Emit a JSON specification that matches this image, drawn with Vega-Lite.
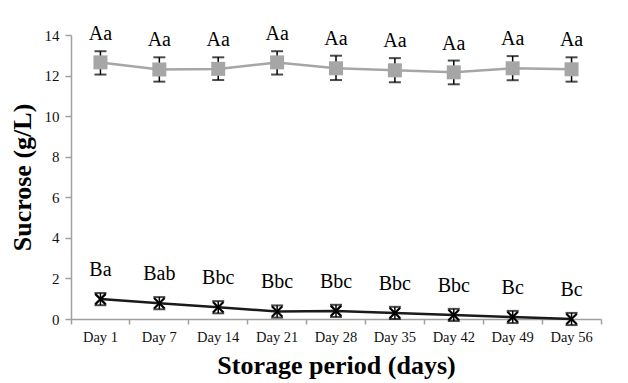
{
  "$schema": "https://vega.github.io/schema/vega-lite/v6.json",
  "autosize": "none",
  "width": 530,
  "height": 284,
  "padding": {"left": 71, "top": 35, "right": 27, "bottom": 64},
  "background": "white",
  "config": {
    "view": {"stroke": null},
    "font": "Liberation Serif",
    "text": {"font": "Liberation Serif"},
    "axis": {"labelFont": "Liberation Serif", "titleFont": "Liberation Serif", "domainColor": "#a0a0a0", "tickColor": "#a0a0a0", "labelColor": "#111111", "titleColor": "#000000", "grid": false, "domainWidth": 1.5, "tickWidth": 1.5}
  },
  "data": {
    "values": [
      {"day": "Day 1", "series": "grey", "value": 12.65, "lo": 12.05, "hi": 13.2, "label": "Aa"},
      {"day": "Day 7", "series": "grey", "value": 12.3, "lo": 11.7, "hi": 12.9, "label": "Aa"},
      {"day": "Day 14", "series": "grey", "value": 12.33, "lo": 11.78, "hi": 12.9, "label": "Aa"},
      {"day": "Day 21", "series": "grey", "value": 12.65, "lo": 12.05, "hi": 13.2, "label": "Aa"},
      {"day": "Day 28", "series": "grey", "value": 12.36, "lo": 11.78, "hi": 12.98, "label": "Aa"},
      {"day": "Day 35", "series": "grey", "value": 12.26, "lo": 11.67, "hi": 12.86, "label": "Aa"},
      {"day": "Day 42", "series": "grey", "value": 12.16, "lo": 11.57, "hi": 12.74, "label": "Aa"},
      {"day": "Day 49", "series": "grey", "value": 12.36, "lo": 11.77, "hi": 12.96, "label": "Aa"},
      {"day": "Day 56", "series": "grey", "value": 12.31, "lo": 11.7, "hi": 12.9, "label": "Aa"},
      {"day": "Day 1", "series": "black", "value": 0.98, "lo": 0.68, "hi": 1.28, "label": "Ba"},
      {"day": "Day 7", "series": "black", "value": 0.78, "lo": 0.48, "hi": 1.08, "label": "Bab"},
      {"day": "Day 14", "series": "black", "value": 0.58, "lo": 0.28, "hi": 0.88, "label": "Bbc"},
      {"day": "Day 21", "series": "black", "value": 0.37, "lo": 0.07, "hi": 0.67, "label": "Bbc"},
      {"day": "Day 28", "series": "black", "value": 0.4, "lo": 0.1, "hi": 0.7, "label": "Bbc"},
      {"day": "Day 35", "series": "black", "value": 0.3, "lo": 0.0, "hi": 0.6, "label": "Bbc"},
      {"day": "Day 42", "series": "black", "value": 0.2, "lo": -0.1, "hi": 0.5, "label": "Bbc"},
      {"day": "Day 49", "series": "black", "value": 0.1, "lo": -0.2, "hi": 0.4, "label": "Bc"},
      {"day": "Day 56", "series": "black", "value": 0.0, "lo": -0.3, "hi": 0.3, "label": "Bc"}
    ]
  },
  "encoding": {
    "x": {
      "field": "day", "type": "ordinal",
      "sort": ["Day 1", "Day 7", "Day 14", "Day 21", "Day 28", "Day 35", "Day 42", "Day 49", "Day 56"],
      "scale": {"paddingInner": 0, "paddingOuter": 0},
      "axis": {"labelAngle": 0, "labelAlign": "center", "labelFont": "Liberation Serif", "titleFont": "Liberation Serif", "labelFontSize": 14.5, "labelColor": "#111111", "domainColor": "#a0a0a0", "tickColor": "#a0a0a0", "bandPosition": 1, "tickExtra": true, "labelOffset": 0, "tickSize": 5, "labelPadding": 6, "title": "Storage period (days)", "titleFontSize": 26, "titleFontWeight": "bold", "titleColor": "#000000", "titlePadding": 9}
    }
  },
  "layer": [
    {
      "mark": {"type": "line", "color": "#A6A6A6", "strokeWidth": 2.5},
      "transform": [{"filter": "datum.series === 'grey'"}],
      "encoding": {
        "y": {"field": "value", "type": "quantitative", "scale": {"domain": [0, 14], "nice": false}, "axis": {"values": [0, 2, 4, 6, 8, 10, 12, 14], "labelFont": "Liberation Serif", "titleFont": "Liberation Serif", "labelColor": "#111111", "domainColor": "#a0a0a0", "tickColor": "#a0a0a0", "labelFontSize": 15, "tickSize": 6, "labelPadding": 6, "title": "Sucrose (g/L)", "titleFontSize": 26, "titleFontWeight": "bold", "titleColor": "#000000", "titlePadding": 9}}
      }
    },
    {
      "mark": {"type": "line", "color": "#1a1a1a", "strokeWidth": 2.5},
      "transform": [{"filter": "datum.series === 'black'"}],
      "encoding": {"y": {"field": "value", "type": "quantitative"}}
    },
    {
      "mark": {"type": "rule", "color": "#000000", "strokeWidth": 1.5},
      "encoding": {"y": {"field": "lo", "type": "quantitative"}, "y2": {"field": "hi"}}
    },
    {
      "mark": {"type": "tick", "color": "#000000", "thickness": 2, "size": 12, "orient": "horizontal"},
      "encoding": {"y": {"field": "lo", "type": "quantitative"}}
    },
    {
      "mark": {"type": "tick", "color": "#000000", "thickness": 2, "size": 12, "orient": "horizontal"},
      "encoding": {"y": {"field": "hi", "type": "quantitative"}}
    },
    {
      "mark": {"type": "point", "shape": "square", "filled": true, "color": "#A6A6A6", "opacity": 1, "size": 196},
      "transform": [{"filter": "datum.series === 'grey'"}],
      "encoding": {"y": {"field": "value", "type": "quantitative"}}
    },
    {
      "mark": {"type": "point", "shape": "M-1,-1L1,1M-1,1L1,-1", "filled": false, "color": "#000000", "strokeWidth": 2.2, "opacity": 1, "size": 110},
      "transform": [{"filter": "datum.series === 'black'"}],
      "encoding": {"y": {"field": "value", "type": "quantitative"}}
    },
    {
      "mark": {"type": "text", "font": "Liberation Serif", "fontSize": 20, "color": "#000000", "baseline": "alphabetic", "dy": -11},
      "transform": [{"filter": "datum.series === 'grey'"}],
      "encoding": {"y": {"field": "hi", "type": "quantitative"}, "text": {"field": "label"}}
    },
    {
      "mark": {"type": "text", "font": "Liberation Serif", "fontSize": 20, "color": "#000000", "baseline": "alphabetic", "dy": -23},
      "transform": [{"filter": "datum.series === 'black'"}],
      "encoding": {"y": {"field": "value", "type": "quantitative"}, "text": {"field": "label"}}
    }
  ]
}
